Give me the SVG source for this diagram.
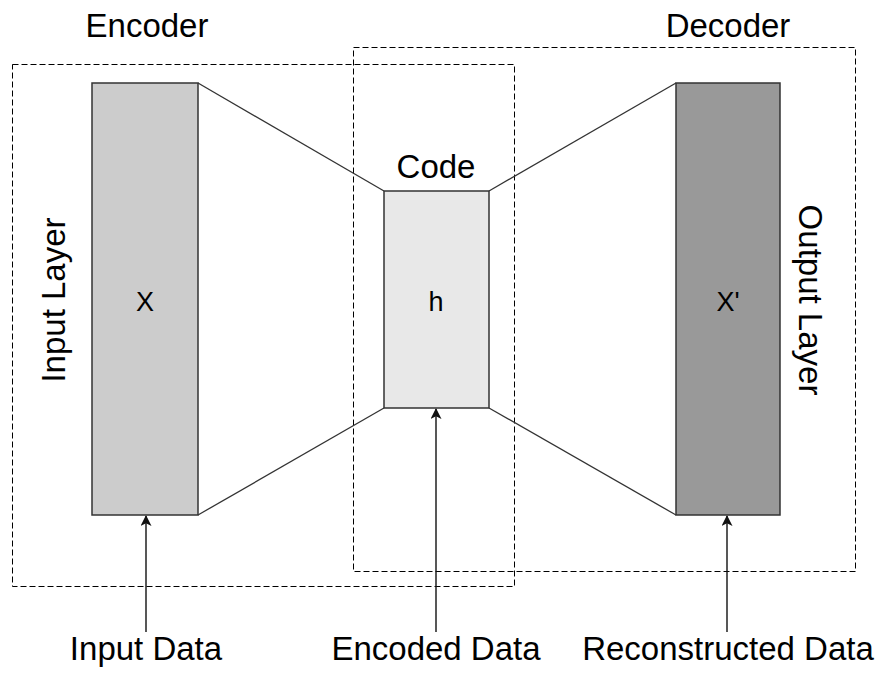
<svg xmlns="http://www.w3.org/2000/svg" width="879" height="673" viewBox="0 0 879 673">
<style>
text{font-family:"Liberation Sans",Arial,sans-serif;fill:#000}
.big{font-size:33px}
.sym{font-size:27px}
.box{stroke:#333;stroke-width:1.5}
.dash{fill:none;stroke:#000;stroke-width:1;stroke-dasharray:6 3}
.ln{stroke:#333;stroke-width:1.3;fill:none}
.arr{stroke:#111;stroke-width:1.4;fill:none;marker-end:url(#ah)}
</style>
<defs>
<marker id="ah" viewBox="0 0 10 10" refX="9" refY="5" markerWidth="12" markerHeight="11" markerUnits="userSpaceOnUse" orient="auto">
<path d="M0,0 L10,5 L0,10 L2.5,5 Z" fill="#111"/>
</marker>
</defs>
<rect width="879" height="673" fill="#fff"/>
<g id="encoder-group">
<rect class="dash" x="12.5" y="64.5" width="502" height="522"/>
<text class="big" x="147" y="37" text-anchor="middle">Encoder</text>
</g>
<g id="decoder-group">
<rect class="dash" x="353.5" y="47.5" width="502" height="524"/>
<text class="big" x="728" y="37" text-anchor="middle">Decoder</text>
</g>
<g id="connectors">
<line class="ln" x1="198" y1="83" x2="384" y2="191"/>
<line class="ln" x1="198" y1="515" x2="384" y2="408"/>
<line class="ln" x1="489" y1="191" x2="676" y2="83"/>
<line class="ln" x1="489" y1="408" x2="676" y2="515"/>
<line class="arr" x1="146" y1="632" x2="146" y2="516"/>
<line class="arr" x1="436" y1="632" x2="436" y2="409"/>
<line class="arr" x1="727" y1="632" x2="727" y2="516"/>
</g>
<g id="input-layer">
<rect class="box" x="92" y="83" width="106" height="432" fill="#cccccc"/>
<text class="sym" x="145" y="311" text-anchor="middle">X</text>
<text class="big" transform="translate(65,300) rotate(-90)" text-anchor="middle">Input Layer</text>
</g>
<g id="code">
<rect class="box" x="384" y="191" width="105" height="217" fill="#e8e8e8"/>
<text class="big" x="436" y="178" text-anchor="middle">Code</text>
<text class="sym" x="436" y="311" text-anchor="middle">h</text>
</g>
<g id="output-layer">
<rect class="box" x="676" y="83" width="104" height="432" fill="#999999"/>
<text class="sym" x="728" y="311" text-anchor="middle">X'</text>
<text class="big" transform="translate(799,300) rotate(90)" text-anchor="middle">Output Layer</text>
</g>
<g id="input-data"><text class="big" x="146" y="660" text-anchor="middle">Input Data</text></g>
<g id="encoded-data"><text class="big" x="436" y="660" text-anchor="middle">Encoded Data</text></g>
<g id="reconstructed-data"><text class="big" x="728" y="660" text-anchor="middle">Reconstructed Data</text></g>
</svg>
